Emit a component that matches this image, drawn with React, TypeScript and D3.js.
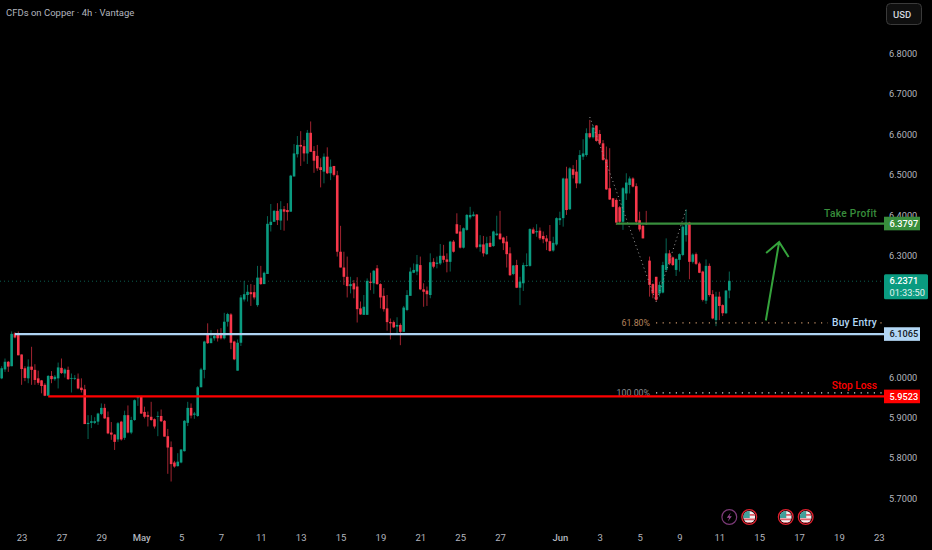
import { useEffect, useRef } from 'react'
import * as d3 from 'd3'

// open, high, low, close per 4h bar
const aprilBars = [
  [5.997,6.027,5.995,6.022],[6.019,6.046,6.013,6.038],[6.038,6.040,6.013,6.026],[6.027,6.113,6.027,6.107],
  [6.108,6.111,6.096,6.098],[6.104,6.113,6.054,6.054],[6.056,6.056,5.981,6.020],[6.022,6.027,5.990,5.998],
  [5.997,6.044,5.985,6.026],[6.026,6.075,5.981,6.018],[6.018,6.032,5.981,5.993],[5.997,6.016,5.981,5.986],
  [5.992,5.993,5.960,5.978],[5.981,5.985,5.953,5.954],[5.954,6.005,5.953,6.003],[6.003,6.015,5.985,5.995],
  [5.995,6.005,5.991,6.001],[5.997,6.036,5.972,6.024],[6.023,6.046,6.008,6.010],[6.009,6.022,5.999,6.019],
  [6.018,6.026,5.993,5.995],[5.996,6.009,5.962,5.998],[5.996,6.005,5.993,5.998],[5.996,6.009,5.970,5.972],
  [5.974,5.997,5.962,5.968],[5.970,5.981,5.884,5.884],[5.884,5.906,5.847,5.887],[5.887,5.906,5.874,5.891],
  [5.887,5.901,5.884,5.891],[5.890,5.912,5.882,5.910],[5.909,5.935,5.906,5.924],[5.924,5.934,5.897,5.898],
  [5.901,5.915,5.859,5.861],[5.863,5.889,5.845,5.858],[5.858,5.859,5.820,5.840],[5.846,5.889,5.840,5.886],
  [5.890,5.892,5.843,5.846],[5.850,5.917,5.845,5.906],[5.906,5.930,5.861,5.863],[5.863,5.902,5.859,5.894],
  [5.894,5.945,5.892,5.943],[5.949,5.952,5.929,5.950],
]
const mayBars = [
  [5.953,5.954,5.909,5.910],[5.914,5.927,5.898,5.902],[5.906,5.915,5.878,5.902],[5.902,5.939,5.892,5.894],
  [5.896,5.898,5.873,5.878],[5.902,5.915,5.854,5.904],[5.904,5.920,5.889,5.891],[5.892,5.894,5.853,5.853],
  [5.854,5.872,5.761,5.826],[5.827,5.841,5.742,5.785],[5.789,5.793,5.776,5.779],[5.780,5.812,5.779,5.791],
  [5.789,5.822,5.787,5.821],[5.817,5.894,5.816,5.892],[5.887,5.939,5.879,5.924],[5.924,5.935,5.898,5.905],
  [5.907,5.914,5.897,5.910],[5.904,5.978,5.902,5.975],[5.975,6.023,5.975,6.019],[6.018,6.090,5.997,6.088],
  [6.108,6.133,6.082,6.084],[6.084,6.116,6.084,6.096],[6.096,6.108,6.090,6.102],[6.108,6.118,6.088,6.096],
  [6.108,6.121,6.093,6.096],[6.096,6.159,6.093,6.137],[6.137,6.159,6.125,6.156],[6.155,6.158,6.069,6.085],
  [6.088,6.090,6.042,6.044],[6.016,6.093,6.016,6.085],[6.085,6.203,6.077,6.197],[6.192,6.238,6.187,6.205],
  [6.203,6.228,6.187,6.211],[6.210,6.230,6.176,6.205],[6.210,6.228,6.192,6.197],[6.178,6.275,6.174,6.246],
  [6.246,6.275,6.228,6.230],[6.230,6.261,6.230,6.258],[6.255,6.398,6.255,6.379],[6.376,6.428,6.360,6.384],
  [6.384,6.413,6.384,6.411],[6.411,6.430,6.376,6.388],[6.387,6.435,6.364,6.415],[6.415,6.423,6.362,6.409],
  [6.413,6.430,6.387,6.408],[6.409,6.500,6.409,6.498],[6.496,6.576,6.496,6.553],[6.551,6.596,6.543,6.574],
  [6.574,6.608,6.522,6.570],[6.571,6.586,6.533,6.553],[6.553,6.611,6.527,6.604],[6.604,6.632,6.557,6.557],
  [6.559,6.571,6.505,6.535],[6.547,6.574,6.510,6.516],[6.519,6.541,6.469,6.512],[6.508,6.553,6.479,6.545],
  [6.545,6.568,6.502,6.504],[6.504,6.538,6.487,6.520],[6.522,6.522,6.496,6.500],[6.499,6.510,6.298,6.310],
  [6.310,6.374,6.271,6.271],[6.271,6.310,6.228,6.248],[6.248,6.298,6.197,6.225],[6.225,6.248,6.207,6.230],
  [6.232,6.240,6.195,6.217],[6.224,6.247,6.135,6.168],[6.170,6.187,6.154,6.155],[6.154,6.203,6.154,6.174],
  [6.154,6.244,6.154,6.238],[6.236,6.258,6.215,6.233],[6.232,6.265,6.206,6.263],[6.269,6.277,6.228,6.230],
  [6.230,6.232,6.170,6.197],[6.201,6.220,6.162,6.168],[6.170,6.203,6.115,6.136],[6.136,6.145,6.093,6.133],
  [6.136,6.140,6.121,6.123],[6.125,6.148,6.108,6.129],[6.129,6.133,6.079,6.112],[6.112,6.176,6.112,6.172],
  [6.166,6.215,6.163,6.203],[6.201,6.271,6.201,6.261],[6.258,6.281,6.257,6.265],[6.261,6.302,6.252,6.279],
  [6.277,6.298,6.215,6.217],[6.217,6.232,6.174,6.211],[6.214,6.224,6.176,6.205],[6.203,6.306,6.195,6.284],
  [6.285,6.294,6.269,6.273],[6.280,6.298,6.269,6.283],[6.281,6.329,6.277,6.300],[6.300,6.327,6.283,6.290],
  [6.291,6.306,6.259,6.285],[6.285,6.337,6.261,6.335],[6.335,6.339,6.308,6.310],[6.378,6.405,6.354,6.355],
  [6.360,6.376,6.318,6.320],[6.320,6.370,6.318,6.368],[6.364,6.403,6.362,6.401],[6.395,6.421,6.390,6.401],
  [6.398,6.409,6.397,6.402],[6.402,6.403,6.318,6.321],[6.322,6.351,6.310,6.328],[6.328,6.349,6.298,6.306],
  [6.304,6.347,6.302,6.331],[6.332,6.349,6.321,6.322],[6.324,6.362,6.322,6.360],[6.351,6.399,6.349,6.355],
  [6.355,6.411,6.339,6.341],[6.345,6.347,6.314,6.331],[6.335,6.349,6.271,6.304],[6.306,6.321,6.250,6.252],
  [6.255,6.277,6.252,6.276],[6.277,6.290,6.220,6.221],[6.221,6.248,6.178,6.236],[6.232,6.283,6.213,6.277],
  [6.275,6.306,6.273,6.277],[6.275,6.368,6.273,6.366],[6.365,6.370,6.354,6.355],[6.358,6.378,6.347,6.361],
  [6.362,6.370,6.339,6.343],[6.349,6.360,6.331,6.341],[6.343,6.351,6.314,6.335],[6.336,6.376,6.310,6.312],
  [6.313,6.347,6.310,6.332],
]
const juneBars = [
  [6.328,6.395,6.325,6.393],[6.388,6.409,6.376,6.393],[6.393,6.493,6.372,6.491],[6.491,6.520,6.401,6.413],
  [6.415,6.519,6.413,6.516],[6.514,6.524,6.491,6.500],[6.508,6.537,6.467,6.479],[6.479,6.561,6.477,6.549],
  [6.545,6.588,6.537,6.553],[6.549,6.615,6.545,6.603],[6.603,6.636,6.590,6.593],[6.593,6.623,6.590,6.617],
  [6.622,6.623,6.582,6.584],[6.601,6.611,6.574,6.578],[6.578,6.586,6.535,6.537],[6.538,6.570,6.463,6.464],
  [6.467,6.566,6.438,6.439],[6.442,6.443,6.420,6.421],[6.438,6.442,6.376,6.382],[6.420,6.423,6.378,6.384],
  [6.384,6.470,6.364,6.467],[6.454,6.504,6.438,6.481],[6.475,6.496,6.454,6.491],[6.491,6.494,6.469,6.471],
  [6.472,6.479,6.376,6.384],[6.388,6.409,6.360,6.365],[6.374,6.376,6.343,6.343],[6.380,6.411,6.376,6.378],
  [6.288,6.298,6.199,6.228],[6.230,6.232,6.195,6.207],[6.248,6.248,6.187,6.191],[6.207,6.236,6.199,6.228],
  [6.209,6.285,6.207,6.277],[6.265,6.343,6.261,6.306],[6.306,6.314,6.277,6.281],[6.296,6.298,6.275,6.277],
  [6.265,6.294,6.250,6.292],[6.290,6.306,6.261,6.304],[6.302,6.376,6.299,6.372],[6.351,6.415,6.335,6.382],
  [6.382,6.384,6.242,6.285],[6.285,6.306,6.281,6.303],[6.304,6.308,6.277,6.280],[6.281,6.285,6.257,6.258],
  [6.261,6.263,6.187,6.191],[6.189,6.291,6.181,6.275],[6.275,6.281,6.199,6.203],[6.205,6.215,6.143,6.145],
  [6.141,6.211,6.126,6.199],[6.199,6.211,6.141,6.176],[6.178,6.180,6.151,6.158],[6.158,6.215,6.156,6.214],
  [6.214,6.261,6.195,6.238],
]

// 6.2 and 6.1 sit under the price tags in the picture
const priceTicks = [6.8, 6.7, 6.6, 6.5, 6.4, 6.3, 6.0, 5.9, 5.8, 5.7]
const timeSlots = [6, 18, 30, 42, 54, 66, 78, 90, 102, 114, 126, 138, 150, 168, 180, 192, 204, 216, 228, 240, 252, 264]
const timeLabels = ['23', '27', '29', 'May', '5', '7', '11', '13', '15', '19', '21', '25', '27', 'Jun', '3', '5', '9', '11', '15', '17', '19', '23']

const currentPrice = 6.2371
const countdown = '01:33:50'
const takeProfit = 6.3797
const buyEntry = 6.1065
const stopLoss = 5.9523
const fibLevels = [6.134, 5.961]
const fibLabels = ['61.80%', '100.00%']
const zigzagSlots = [177, 197, 206]
const zigzagPrices = [6.643, 6.186, 6.415]
const arrowSlots = [230, 234]
const arrowPrices = [6.14, 6.334]
const eventSlots = [219, 225, 236, 242]
const eventKinds = ['bolt', 'flag', 'flag', 'flag']

const RED = '#f7374a'
const GREEN = '#0a9b80'
const AXIS_TEXT = '#b2b5be'
const FONT = 'Roboto, sans-serif'

export default function App() {
  const svgRef = useRef<SVGSVGElement>(null)

  useEffect(() => {
    if (!svgRef.current) return
    const svg = d3.select(svgRef.current)
    svg.selectAll('*').remove()

    const width = 932
    const height = 550
    const plotRight = 884

    const bars = [...aprilBars, ...mayBars, ...juneBars]
    const x = d3.scaleLinear().domain([0, bars.length - 1]).range([1.67, 729.3])
    const y = d3.scaleLinear().domain([5.7, 6.8]).range([498.5, 53.5])

    svg.append('rect').attr('width', width).attr('height', height).attr('fill', '#000')

    // last price guide
    svg.append('line')
      .attr('x1', 0).attr('x2', plotRight)
      .attr('y1', y(currentPrice)).attr('y2', y(currentPrice))
      .attr('stroke', '#0a5c4e').attr('stroke-width', 1).attr('stroke-dasharray', '1 3')

    // Candles
    const candle = svg.append('g').selectAll('g').data(bars).enter().append('g')
    candle.append('line')
      .attr('x1', (_, i) => x(i)).attr('x2', (_, i) => x(i))
      .attr('y1', (d) => y(d[1])).attr('y2', (d) => y(d[2]))
      .attr('stroke', (d) => (d[3] >= d[0] ? GREEN : RED))
      .attr('stroke-width', 0.9)
      .attr('stroke-opacity', 0.72)
    candle.append('rect')
      .attr('x', (_, i) => x(i) - 1.3)
      .attr('width', 2.6)
      .attr('y', (d) => y(Math.max(d[0], d[3])))
      .attr('height', (d) => Math.max(0.8, Math.abs(y(d[0]) - y(d[3]))))
      .attr('fill', (d) => (d[3] >= d[0] ? GREEN : RED))

    // Zigzag of the fib drawing
    const zigzag = d3.line<number>().x((d) => x(d)).y((_, i) => y(zigzagPrices[i]))
    svg.append('path')
      .attr('d', zigzag(zigzagSlots))
      .attr('fill', 'none')
      .attr('stroke', '#9a9a9a')
      .attr('stroke-width', 1)
      .attr('stroke-dasharray', '1 3')

    // Fib levels
    const fibColors = ['#c8946a', '#d8d8d8']
    fibLevels.forEach((level, i) => {
      svg.append('line')
        .attr('x1', 656).attr('x2', plotRight)
        .attr('y1', y(level)).attr('y2', y(level))
        .attr('stroke', fibColors[i]).attr('stroke-width', 1.2).attr('stroke-dasharray', '1.2 5.4')
      svg.append('text')
        .attr('x', 650).attr('y', y(level) + 3)
        .attr('text-anchor', 'end')
        .attr('fill', i === 0 ? '#b5835c' : '#8b8e96')
        .attr('font-family', FONT).attr('font-size', 8.8)
        .text(fibLabels[i])
    })

    // Horizontal levels
    const levels = [
      { price: buyEntry, from: 4, color: '#aed3f2' },
      { price: stopLoss, from: 14, color: '#ff0000' },
      { price: takeProfit, from: 185, color: '#388e3c' },
    ]
    levels.forEach((l) => {
      svg.append('line')
        .attr('x1', x(l.from)).attr('x2', plotRight)
        .attr('y1', y(l.price)).attr('y2', y(l.price))
        .attr('stroke', l.color).attr('stroke-width', 2.2)
    })

    // Level captions
    const captions = [
      { text: 'Take Profit', price: takeProfit, dy: -7, color: '#388e3c', spacing: 0.3 },
      { text: 'Buy Entry', price: buyEntry, dy: -8, color: '#b3d7f5', spacing: 0.2 },
      { text: 'Stop Loss', price: stopLoss, dy: -7, color: '#ff0000', spacing: 0 },
    ]
    captions.forEach((c) => {
      if (c.text === 'Buy Entry') {
        svg.append('rect')
          .attr('x', 828).attr('y', y(c.price) + c.dy - 8)
          .attr('width', 50).attr('height', 11).attr('fill', '#000')
      }
      svg.append('text')
        .attr('x', 877).attr('y', y(c.price) + c.dy)
        .attr('text-anchor', 'end')
        .attr('fill', c.color)
        .attr('font-family', FONT).attr('font-size', 10.2).attr('font-weight', 500).attr('letter-spacing', c.spacing)
        .text(c.text)
    })

    // Hand drawn arrow
    const arrowX = arrowSlots.map(x)
    const arrowY = arrowPrices.map(y)
    svg.append('path')
      .attr('d', `M ${arrowX[0]},${arrowY[0]} L ${arrowX[1]},${arrowY[1]} M ${arrowX[1] - 13},${arrowY[1] + 11} L ${arrowX[1]},${arrowY[1]} L ${arrowX[1] + 9.5},${arrowY[1] + 15}`)
      .attr('fill', 'none')
      .attr('stroke', '#35a33c')
      .attr('stroke-width', 2)

    // Price axis
    const axisRight = d3.axisRight(y).tickValues(priceTicks).tickFormat((d) => (+d).toFixed(4)).tickSize(0).tickPadding(6)
    const priceAxis = svg.append('g').attr('transform', `translate(${plotRight - 1},0)`).call(axisRight)
    priceAxis.select('.domain').remove()
    priceAxis.selectAll('text')
      .attr('fill', AXIS_TEXT).attr('font-family', FONT).attr('font-size', 9.2)

    // Time axis
    const axisBottom = d3.axisBottom(x).tickValues(timeSlots).tickFormat((_, i) => timeLabels[i]).tickSize(0).tickPadding(0)
    const timeAxis = svg.append('g').attr('transform', 'translate(0,534.5)').call(axisBottom)
    timeAxis.select('.domain').remove()
    timeAxis.selectAll('text')
      .attr('fill', AXIS_TEXT).attr('font-family', FONT).attr('font-size', 9.5)
      .attr('font-weight', (_, i) => (timeLabels[i] === 'May' || timeLabels[i] === 'Jun' ? 500 : 400))

    // Price tags
    const tags = [
      { price: takeProfit, bg: '#388e3c', fg: '#fff' },
      { price: buyEntry, bg: '#b3d7f5', fg: '#131722' },
      { price: stopLoss, bg: '#ff0000', fg: '#fff' },
    ]
    tags.forEach((t) => {
      svg.append('rect')
        .attr('x', plotRight).attr('y', y(t.price) - 6.8)
        .attr('width', 36).attr('height', 13.6)
        .attr('fill', t.bg)
      svg.append('text')
        .attr('x', 889.5).attr('y', y(t.price) + 3.3)
        .attr('fill', t.fg)
        .attr('font-family', FONT).attr('font-size', 9.2).attr('font-weight', 500)
        .text(t.price.toFixed(4))
    })
    svg.append('rect')
      .attr('x', plotRight).attr('y', y(currentPrice) - 7)
      .attr('width', 44).attr('height', 25)
      .attr('rx', 1.5)
      .attr('fill', GREEN)
    svg.append('text')
      .attr('x', 889.5).attr('y', y(currentPrice) + 3)
      .attr('fill', '#fff').attr('font-family', FONT).attr('font-size', 9.2).attr('font-weight', 500)
      .text(currentPrice.toFixed(4))
    svg.append('text')
      .attr('x', 889.5).attr('y', y(currentPrice) + 14.5)
      .attr('fill', '#e4f4f0').attr('font-family', FONT).attr('font-size', 9.2)
      .text(countdown)

    // Event markers
    const eventY = 517
    const defs = svg.append('defs')
    defs.append('clipPath').attr('id', 'flag-clip').append('circle').attr('r', 6)
    const events = svg.append('g').selectAll('g').data(eventSlots).enter().append('g')
      .attr('transform', (d) => `translate(${x(d)},${eventY})`)
    events.each(function (_, i) {
      const g = d3.select(this)
      if (eventKinds[i] === 'bolt') {
        g.append('circle').attr('r', 7.4).attr('fill', '#000').attr('stroke', '#7c3a78').attr('stroke-width', 1.2)
        g.append('path').attr('d', 'M 1.5,-4.5 L -2.5,0.8 L 0,0.8 L -1.5,4.5 L 2.5,-0.8 L 0,-0.8 Z').attr('fill', '#9c4a96')
      } else {
        g.append('circle').attr('r', 7.4).attr('fill', '#000').attr('stroke', '#e0202e').attr('stroke-width', 1.3)
        const flag = g.append('g').attr('clip-path', 'url(#flag-clip)')
        flag.append('rect').attr('x', -6).attr('y', -6).attr('width', 12).attr('height', 12).attr('fill', '#f2eeee')
        flag.append('rect').attr('x', -6).attr('y', 1.5).attr('width', 12).attr('height', 1.8).attr('fill', '#e0606a')
        flag.append('rect').attr('x', 0).attr('y', -3).attr('width', 6).attr('height', 1.8).attr('fill', '#e0606a')
        flag.append('rect').attr('x', -6).attr('y', 5).attr('width', 12).attr('height', 2).attr('fill', '#e0606a')
        flag.append('rect').attr('x', -6).attr('y', -6).attr('width', 6.5).attr('height', 7).attr('fill', '#3f9f9a')
      }
    })

    // Header
    svg.append('text')
      .attr('x', 6).attr('y', 16)
      .attr('fill', AXIS_TEXT).attr('font-family', FONT).attr('font-size', 9.5)
      .text('CFDs on Copper · 4h · Vantage')

    // Currency button
    svg.append('rect')
      .attr('x', 886.5).attr('y', 3.5)
      .attr('width', 35).attr('height', 21).attr('rx', 4)
      .attr('fill', '#0f0f0f').attr('stroke', '#3a3a3a')
    svg.append('text')
      .attr('x', 893).attr('y', 17.5)
      .attr('fill', '#d1d4dc').attr('font-family', FONT).attr('font-size', 9.5).attr('font-weight', 500)
      .text('USD')
  }, [])

  return <svg ref={svgRef} width={932} height={550} style={{ position: 'fixed', left: 0, top: 0, display: 'block' }} />
}
